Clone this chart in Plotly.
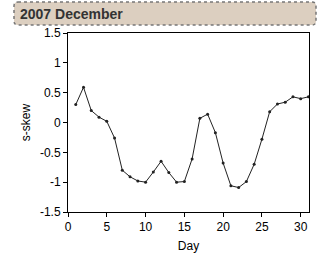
import plotly.graph_objects as go

days = list(range(1, 32))
skew = [0.30, 0.59, 0.20, 0.09, 0.02, -0.26, -0.80, -0.91, -0.98, -1.00,
        -0.83, -0.65, -0.84, -1.00, -0.99, -0.61, 0.07, 0.14, -0.17, -0.68,
        -1.06, -1.09, -0.99, -0.70, -0.28, 0.18, 0.31, 0.34, 0.43, 0.40, 0.43]
x_ticks = [0, 5, 10, 15, 20, 25, 30]
y_ticks = [-1.5, -1, -0.5, 0, 0.5, 1, 1.5]
y_labels = ["-1.5", "-1", "-0.5", "0", "0.5", "1", "1.5"]

W, H = 325, 253
L, R, T, B = 68, 16, 33, 41
pw, ph = W - L - R, H - T - B

def px(x):
    return (x - L) / pw

def py(y):
    return (H - B - y) / ph

FONT = "Liberation Sans, Arial"

fig = go.Figure()
fig.add_trace(go.Scatter(
    x=days, y=skew, mode="lines+markers",
    line=dict(color="#222222", width=1),
    marker=dict(color="#222222", size=3),
    showlegend=False,
))

# rounded title box
x0, x1, y0, y1 = px(14), px(316), py(25), py(2)
rx, ry = 4 / pw, 4 / ph
path = (f"M {x0+rx},{y1} L {x1-rx},{y1} Q {x1},{y1} {x1},{y1-ry} "
        f"L {x1},{y0+ry} Q {x1},{y0} {x1-rx},{y0} L {x0+rx},{y0} "
        f"Q {x0},{y0} {x0},{y0+ry} L {x0},{y1-ry} Q {x0},{y1} {x0+rx},{y1} Z")
fig.add_shape(type="path", path=path, xref="paper", yref="paper",
              fillcolor="#dccfc0", line=dict(color="#777777", width=1.5, dash="dot"))
fig.add_annotation(text="<b>2007 December</b>", xref="paper", yref="paper",
                   x=px(18), y=py(14), xanchor="left", yanchor="middle",
                   showarrow=False,
                   font=dict(family=FONT, size=14, color="#333333"))

axis_common = dict(showline=True, linecolor="black", linewidth=1, mirror=True,
                   ticks="outside", ticklen=4, tickcolor="black", showgrid=False,
                   zeroline=False, automargin=False,
                   tickfont=dict(family=FONT, size=12, color="black"))

fig.update_layout(
    width=W, height=H,
    margin=dict(l=L, r=R, t=T, b=B, autoexpand=False),
    paper_bgcolor="white", plot_bgcolor="white",
    xaxis=dict(range=[0, 31.07], tickvals=x_ticks,
               title=dict(text="Day", standoff=9,
                          font=dict(family=FONT, size=12, color="black")),
               **axis_common),
    yaxis=dict(range=[-1.5, 1.5], tickvals=y_ticks, ticktext=y_labels,
               title=dict(text="s-skew", standoff=6,
                          font=dict(family=FONT, size=12, color="black")),
               **axis_common),
)

fig.write_html("out.html")
